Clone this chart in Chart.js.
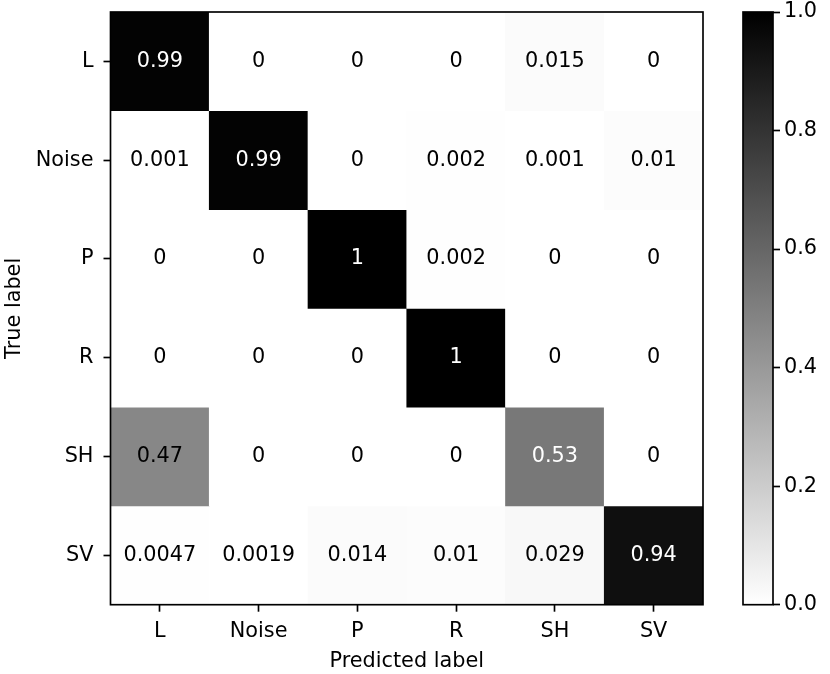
<!DOCTYPE html>
<html>
<head>
<meta charset="utf-8">
<script src="https://cdn.jsdelivr.net/npm/chart.js@4/dist/chart.umd.min.js"></script>
<style>
  html, body { margin: 0; padding: 0; background: #fff; }
  #wrap { position: relative; width: 830px; height: 674px; }
  canvas { position: absolute; left: 0; top: 0; }
</style>
</head>
<body>
<div id="wrap">
  <canvas id="main" width="830" height="674"></canvas>
  <canvas id="cbar" width="830" height="674"></canvas>
</div>
<script>
// ---- data ----
const trueLabels = ['L', 'Noise', 'P', 'R', 'SH', 'SV'];
const predLabels = ['L', 'Noise', 'P', 'R', 'SH', 'SV'];
const rowL     = [0.99, 0, 0, 0, 0.015, 0];
const rowNoise = [0.001, 0.99, 0, 0.002, 0.001, 0.01];
const rowP     = [0, 0, 1, 0.002, 0, 0];
const rowR     = [0, 0, 0, 1, 0, 0];
const rowSH    = [0.47, 0, 0, 0, 0.53, 0];
const rowSV    = [0.0047, 0.0019, 0.014, 0.01, 0.029, 0.94];
const matrixRows = [rowL, rowNoise, rowP, rowR, rowSH, rowSV];
const colorbarTicks = [0, 0.2, 0.4, 0.6, 0.8, 1.0];

// ---- style ----
const FONT = { family: "'DejaVu Sans', sans-serif", size: 20.8 };
const LW = 1.67;
Chart.defaults.font.family = FONT.family;
Chart.defaults.font.size = FONT.size;
Chart.defaults.color = '#000';

function grayR(v) {
  const c = Math.round(255 * (1 - Math.max(0, Math.min(1, v))));
  return `rgb(${c},${c},${c})`;
}
function fmt(v) { return parseFloat(v.toPrecision(2)).toString(); }

const allVals = matrixRows.flat();
const thresh = (Math.max(...allVals) + Math.min(...allVals)) / 2;

function noPad(s) { s.paddingTop = 0; s.paddingBottom = 0; s.paddingLeft = 0; s.paddingRight = 0; }

const frame = {
  id: 'frame',
  afterDraw(chart) {
    const a = chart.chartArea, ctx = chart.ctx;
    ctx.save();
    ctx.strokeStyle = '#000';
    ctx.lineWidth = LW;
    ctx.strokeRect(a.left, a.top, a.right - a.left, a.bottom - a.top);
    ctx.restore();
  }
};

const cellText = {
  id: 'cellText',
  afterDatasetsDraw(chart) {
    const ctx = chart.ctx;
    ctx.save();
    ctx.font = `${FONT.size}px ${FONT.family}`;
    ctx.textAlign = 'center';
    ctx.textBaseline = 'middle';
    chart.data.datasets.forEach((ds, i) => {
      const meta = chart.getDatasetMeta(i);
      meta.data.forEach((el, j) => {
        const v = matrixRows[i][j];
        ctx.fillStyle = v >= thresh ? '#fff' : '#000';
        ctx.fillText(fmt(v), el.x, (el.y + el.base) / 2);
      });
    });
    ctx.restore();
  }
};

new Chart(document.getElementById('main'), {
  type: 'bar',
  data: {
    labels: predLabels,
    datasets: matrixRows.map((row, i) => ({
      label: trueLabels[i],
      data: row.map(() => 1),
      backgroundColor: row.map(grayR),
      borderWidth: 0,
      barPercentage: 1,
      categoryPercentage: 1
    }))
  },
  options: {
    responsive: false,
    animation: false,
    events: [],
    layout: { padding: { left: 0, top: 12, right: 127, bottom: 0 } },
    plugins: { legend: { display: false }, tooltip: { enabled: false } },
    scales: {
      x: {
        stacked: true,
        border: { display: false },
        grid: { display: true, drawOnChartArea: false, drawTicks: true, offset: false,
                tickLength: 7, tickWidth: LW, tickColor: '#000' },
        ticks: { padding: 7, color: '#000', font: FONT, maxRotation: 0 },
        title: { display: true, text: 'Predicted label', color: '#000', font: FONT, padding: { top: 0, bottom: 0 } },
        afterFit(s) { s.height = 69.3; noPad(s); }
      },
      y: {
        stacked: true,
        reverse: true,
        min: 0,
        max: trueLabels.length,
        border: { display: false },
        grid: { display: true, drawOnChartArea: false, drawTicks: true,
                tickLength: 7, tickWidth: LW, tickColor: '#000' },
        afterBuildTicks(s) { s.ticks = trueLabels.map((l, i) => ({ value: i + 0.5 })); },
        ticks: { padding: 10, color: '#000', font: FONT, callback: (v, idx) => trueLabels[idx] },
        title: { display: true, text: 'True label', color: '#000', font: FONT, padding: { top: 2, bottom: 0 } },
        afterFit(s) { s.width = 110.5; noPad(s); }
      }
    }
  },
  plugins: [cellText, frame]
});

new Chart(document.getElementById('cbar'), {
  type: 'bar',
  data: {
    labels: [''],
    datasets: [{
      data: [1],
      borderWidth: 0,
      barPercentage: 1,
      categoryPercentage: 1,
      backgroundColor(ctx) {
        const a = ctx.chart.chartArea;
        if (!a) return '#888';
        const g = ctx.chart.ctx.createLinearGradient(0, a.bottom, 0, a.top);
        g.addColorStop(0, grayR(0));
        g.addColorStop(1, grayR(1));
        return g;
      }
    }]
  },
  options: {
    responsive: false,
    animation: false,
    events: [],
    layout: { padding: { left: 743, top: 12, right: 0, bottom: 69.3 } },
    plugins: { legend: { display: false }, tooltip: { enabled: false } },
    scales: {
      x: { display: false },
      y: {
        position: 'right',
        min: 0,
        max: 1,
        border: { display: false },
        grid: { display: true, drawOnChartArea: false, drawTicks: true,
                tickLength: 7, tickWidth: LW, tickColor: '#000' },
        afterBuildTicks(s) { s.ticks = colorbarTicks.map(v => ({ value: v })); },
        ticks: { padding: 4, color: '#000', font: FONT, callback: (v) => Number(v).toFixed(1) },
        afterFit(s) { s.width = 57; noPad(s); }
      }
    }
  },
  plugins: [frame]
});
</script>
</body>
</html>
